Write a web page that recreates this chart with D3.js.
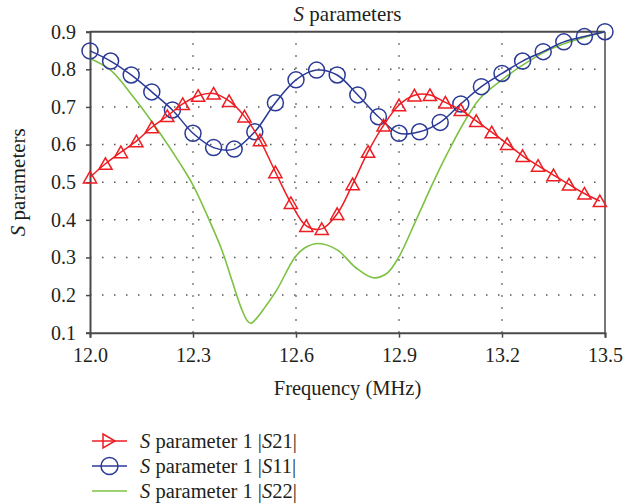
<!DOCTYPE html>
<html>
<head>
<meta charset="utf-8">
<script src="https://cdn.jsdelivr.net/npm/d3@7"></script>
<style>
  body { margin: 0; background: #fff; }
  svg text { font-family: "Liberation Serif", serif; }
</style>
</head>
<body>
<div id="chart"></div>
<script>
// S21 samples (triangles)
const freqS21 = [12.000, 12.045, 12.090, 12.135, 12.180, 12.225, 12.270, 12.315, 12.360, 12.405,
  12.450, 12.495, 12.540, 12.585, 12.630, 12.675, 12.720, 12.765, 12.810, 12.855,
  12.900, 12.945, 12.990, 13.035, 13.080, 13.125, 13.170, 13.215, 13.260, 13.305,
  13.350, 13.395, 13.440, 13.485];
const valS21 = [0.513, 0.549, 0.580, 0.609, 0.646, 0.676, 0.708, 0.730, 0.736, 0.716,
  0.675, 0.612, 0.527, 0.445, 0.384, 0.376, 0.416, 0.495, 0.581, 0.651,
  0.705, 0.731, 0.732, 0.712, 0.692, 0.663, 0.633, 0.602, 0.570, 0.544,
  0.519, 0.494, 0.470, 0.450];

// S11 samples (circles)
const freqS11 = [12.00, 12.06, 12.12, 12.18, 12.24, 12.30, 12.36, 12.42, 12.48, 12.54,
  12.60, 12.66, 12.72, 12.78, 12.84, 12.90, 12.96, 13.02, 13.08, 13.14,
  13.20, 13.26, 13.32, 13.38, 13.44, 13.50];
const valS11 = [0.849, 0.822, 0.785, 0.740, 0.692, 0.630, 0.592, 0.588, 0.634, 0.711,
  0.772, 0.798, 0.785, 0.732, 0.674, 0.630, 0.634, 0.659, 0.708, 0.754,
  0.789, 0.822, 0.847, 0.873, 0.887, 0.900];

// S22 curve (no markers)
const freqS22 = [12.000, 12.060, 12.126, 12.204, 12.262, 12.300, 12.345, 12.384, 12.413, 12.442,
  12.458, 12.468, 12.485, 12.510, 12.545, 12.595, 12.625, 12.665, 12.720, 12.775,
  12.825, 12.865, 12.900, 12.950, 13.000, 13.040, 13.090, 13.135, 13.200, 13.260,
  13.335, 13.400, 13.500];
const valS22 = [0.829, 0.798, 0.727, 0.630, 0.550, 0.492, 0.404, 0.320, 0.240, 0.162,
  0.132, 0.125, 0.138, 0.168, 0.215, 0.298, 0.325, 0.337, 0.320, 0.272,
  0.246, 0.258, 0.302, 0.400, 0.500, 0.575, 0.660, 0.722, 0.772, 0.811,
  0.851, 0.874, 0.900];

const xTicks = [12.0, 12.3, 12.6, 12.9, 13.2, 13.5];
const yTicks = [0.1, 0.2, 0.3, 0.4, 0.5, 0.6, 0.7, 0.8, 0.9];
const legendLabels = ["21", "11", "22"];

const width = 635, height = 504;
const margin = { top: 31.7, right: 30, bottom: 171.3, left: 90 };
const inner = {
  width: width - margin.left - margin.right,
  height: height - margin.top - margin.bottom
};

const colors = { s21: "#ee1d23", s11: "#2b3a97", s22: "#7cc242", axis: "#4a4a4a", text: "#231f20" };
const FONT = '"Liberation Serif", serif';

const svg = d3.select("#chart").append("svg")
  .attr("width", width).attr("height", height);

const g = svg.append("g").attr("transform", `translate(${margin.left},${margin.top})`);

const x = d3.scaleLinear().domain([12, 13.5]).range([0, inner.width]);
const y = d3.scaleLinear().domain([0.1, 0.9]).range([inner.height, 0]);

// dotted grid
g.append("g").attr("class", "grid")
  .selectAll("line").data(yTicks.slice(1, -1)).join("line")
  .attr("x1", 0).attr("x2", inner.width)
  .attr("y1", d => y(d)).attr("y2", d => y(d))
  .attr("stroke", "#555").attr("stroke-width", 1.5)
  .attr("stroke-dasharray", "1.5,10.5");
g.append("g").attr("class", "grid")
  .selectAll("line").data(xTicks.slice(1, -1)).join("line")
  .attr("y1", inner.height).attr("y2", 0)
  .attr("x1", d => x(d)).attr("x2", d => x(d))
  .attr("stroke", "#555").attr("stroke-width", 1.5)
  .attr("stroke-dasharray", "1.5,10.5");

// box top/right
g.append("line").attr("x1", 0).attr("x2", inner.width).attr("y1", 0).attr("y2", 0)
  .attr("stroke", colors.axis).attr("stroke-width", 2);
g.append("line").attr("x1", inner.width).attr("x2", inner.width).attr("y1", 0).attr("y2", inner.height)
  .attr("stroke", colors.axis).attr("stroke-width", 1.5);

// axes
const xAxis = g.append("g")
  .attr("transform", `translate(0,${inner.height})`)
  .call(d3.axisBottom(x).tickValues(xTicks).tickFormat(d3.format(".1f")).tickSize(5).tickPadding(10));
const yAxis = g.append("g")
  .call(d3.axisLeft(y).tickValues(yTicks).tickFormat(d3.format(".1f")).tickSize(4).tickPadding(10));

[xAxis, yAxis].forEach(ax => {
  ax.attr("font-family", null);
  ax.select(".domain").attr("stroke", colors.axis).attr("stroke-width", 2);
  ax.selectAll(".tick line").attr("stroke", colors.axis).attr("stroke-width", 1.5);
  ax.selectAll(".tick text")
    .attr("fill", colors.text)
    .attr("font-size", 20)
    .style("font-family", FONT);
});

// series
const s21 = freqS21.map((f, i) => ({ f, v: valS21[i] }));
const s11 = freqS11.map((f, i) => ({ f, v: valS11[i] }));
const s22 = freqS22.map((f, i) => ({ f, v: valS22[i] }));

const line = d3.line().x(d => x(d.f)).y(d => y(d.v)).curve(d3.curveCatmullRom.alpha(0.5));

g.append("path").datum(s22)
  .attr("fill", "none").attr("stroke", colors.s22).attr("stroke-width", 1.6)
  .attr("d", line);

g.append("path").datum(s11)
  .attr("fill", "none").attr("stroke", colors.s11).attr("stroke-width", 1.5)
  .attr("d", line);
g.append("g").selectAll("circle").data(s11).join("circle")
  .attr("cx", d => x(d.f)).attr("cy", d => y(d.v)).attr("r", 8)
  .attr("fill", "none").attr("stroke", colors.s11).attr("stroke-width", 1.5);

g.append("path").datum(s21)
  .attr("fill", "none").attr("stroke", colors.s21).attr("stroke-width", 1.5)
  .attr("d", line);
const tri = "M0,-6 L6.6,5.6 L-6.6,5.6 Z";
g.append("g").selectAll("path").data(s21).join("path")
  .attr("d", tri)
  .attr("transform", d => `translate(${x(d.f)},${y(d.v)})`)
  .attr("fill", "none").attr("stroke", colors.s21).attr("stroke-width", 1.5);

// title
const title = svg.append("text")
  .attr("x", margin.left + inner.width / 2).attr("y", 21)
  .attr("text-anchor", "middle").attr("font-size", 21).attr("fill", colors.text)
  .style("font-family", FONT);
title.append("tspan").attr("font-style", "italic").text("S");
title.append("tspan").text(" parameters");

// axis labels
svg.append("text")
  .attr("x", margin.left + inner.width / 2).attr("y", 395)
  .attr("text-anchor", "middle").attr("font-size", 20.5).attr("fill", colors.text)
  .style("font-family", FONT)
  .text("Frequency (MHz)");

const yl = svg.append("text")
  .attr("transform", `translate(25,${margin.top + inner.height / 2}) rotate(-90)`)
  .attr("text-anchor", "middle").attr("font-size", 21).attr("fill", colors.text)
  .style("font-family", FONT);
yl.append("tspan").attr("font-style", "italic").text("S");
yl.append("tspan").text(" parameters");

// legend
const legend = svg.append("g").attr("transform", "translate(92,441)");
const rowH = 25;
const lcol = [colors.s21, colors.s11, colors.s22];
legendLabels.forEach((lab, i) => {
  const row = legend.append("g").attr("transform", `translate(0,${i * rowH})`);
  row.append("line").attr("x1", 0).attr("x2", 35).attr("y1", 0).attr("y2", 0)
    .attr("stroke", lcol[i]).attr("stroke-width", 1.5);
  if (i === 0) {
    row.append("path").attr("d", "M-6,-7 L6,0 L-6,7 Z").attr("transform", "translate(17,0)")
      .attr("fill", "none").attr("stroke", lcol[i]).attr("stroke-width", 1.5);
  } else if (i === 1) {
    row.append("circle").attr("cx", 17.5).attr("cy", 0).attr("r", 8.5)
      .attr("fill", "none").attr("stroke", lcol[i]).attr("stroke-width", 1.5);
  }
  const t = row.append("text").attr("x", 48).attr("y", 0).attr("dy", "0.35em")
    .attr("font-size", 20.5).attr("fill", colors.text)
    .style("font-family", FONT);
  t.append("tspan").attr("font-style", "italic").text("S");
  t.append("tspan").text(" parameter 1 |");
  t.append("tspan").attr("font-style", "italic").text("S");
  t.append("tspan").text(lab + "|");
});
</script>
</body>
</html>
